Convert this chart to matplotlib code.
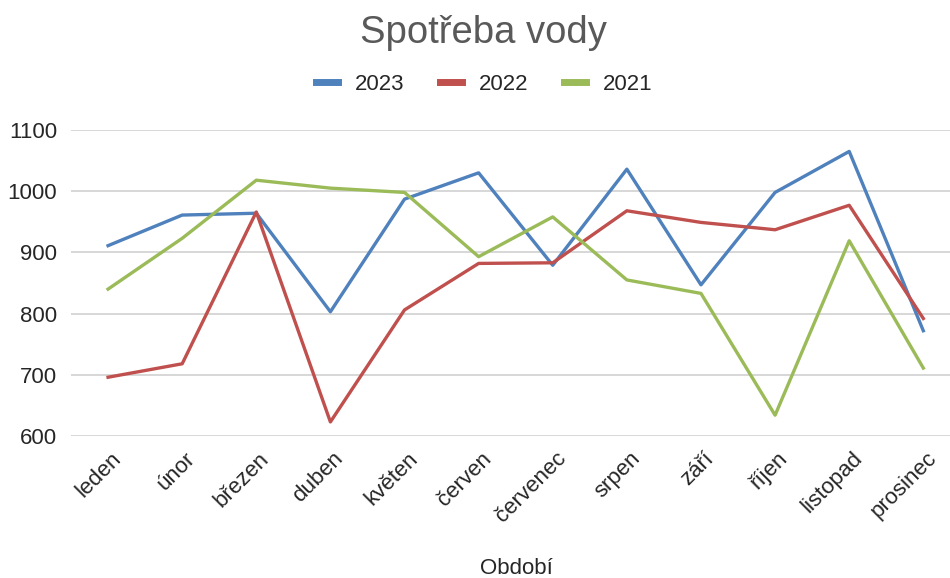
import matplotlib
matplotlib.use("Agg")
import matplotlib.pyplot as plt
import matplotlib.transforms as mtransforms

# data
mesice = ["leden", "únor", "březen", "duben", "květen", "červen",
          "červenec", "srpen", "září", "říjen", "listopad", "prosinec"]
r2023 = [911, 961, 964, 803, 987, 1030, 879, 1036, 847, 998, 1065, 772]
r2022 = [696, 718, 966, 623, 806, 882, 883, 968, 949, 937, 977, 792]
r2021 = [840, 923, 1018, 1005, 998, 893, 958, 855, 833, 634, 919, 711]

plt.rcParams['font.family'] = ['Liberation Sans', 'DejaVu Sans']
barva_textu = '#262626'

fig = plt.figure(figsize=(9.5, 5.78), dpi=100)
ax = fig.add_axes([71/950, 1 - 436/578, 1 - 71/950, (436 - 130)/578])

x = range(len(mesice))
ax.plot(x, r2023, color='#4F81BD', lw=2.4, label='2023')
ax.plot(x, r2022, color='#C0504D', lw=2.4, label='2022')
ax.plot(x, r2021, color='#9BBB59', lw=2.4, label='2021')

ax.set_xlim(-0.5, 11.36)
ax.set_ylim(600, 1100)
ax.set_yticks([600, 700, 800, 900, 1000, 1100])
ax.grid(axis='y', color='#d4d4d4', lw=1.3)
ax.set_axisbelow(True)
for s in ax.spines.values():
    s.set_visible(False)
ax.tick_params(axis='both', length=0, labelsize=16, colors=barva_textu)
ax.tick_params(axis='y', pad=10)
ax.tick_params(axis='x', pad=14)

ax.set_xticks(list(x))
ax.set_xticklabels(mesice, rotation=45, ha='right', va='center', rotation_mode='anchor')
posun = mtransforms.ScaledTranslation(0.10, 0, fig.dpi_scale_trans)
for lab in ax.get_xticklabels():
    lab.set_transform(lab.get_transform() + posun)

fig.text(483/950, 1 - 33/578, "Spotřeba vody", ha='center', va='center',
         fontsize=27.5, color='#595959')
fig.text(516/950, 1 - 568/578, "Období", ha='center', va='center',
         fontsize=16, color=barva_textu)

leg = fig.legend(loc='center', bbox_to_anchor=(484/950, 1 - 84/578), ncol=3,
                 frameon=False, fontsize=16, handlelength=1.0, columnspacing=1.6,
                 handletextpad=0.75)
for t in leg.get_texts():
    t.set_color(barva_textu)
for h in leg.get_lines():
    h.set_linewidth(5)

fig.savefig("out.png", dpi=100)
